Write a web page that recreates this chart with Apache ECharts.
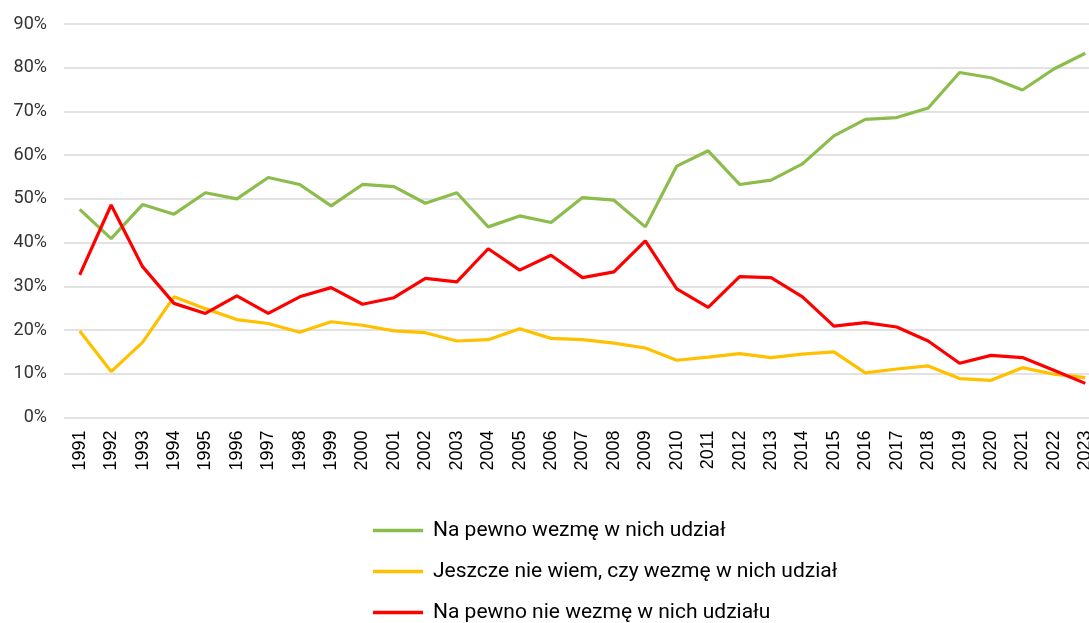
<!DOCTYPE html>
<html>
<head>
<meta charset="utf-8">
<script src="https://cdn.jsdelivr.net/npm/echarts@6/dist/echarts.min.js"></script>
<style>
  html, body { margin: 0; padding: 0; background: #fff; }
  #chart { width: 1089px; height: 623px; }
</style>
</head>
<body>
<div id="chart"></div>
<script>
// lata badania
var years = ['1991','1992','1993','1994','1995','1996','1997','1998','1999','2000','2001',
  '2002','2003','2004','2005','2006','2007','2008','2009','2010','2011','2012','2013',
  '2014','2015','2016','2017','2018','2019','2020','2021','2022','2023'];

var seriesNames = ['Na pewno wezmę w nich udział',
  'Jeszcze nie wiem, czy wezmę w nich udział',
  'Na pewno nie wezmę w nich udziału'];

var naPewno = [47.6, 40.9, 48.7, 46.5, 51.4, 50.0, 54.9, 53.3, 48.4, 53.3, 52.8,
  49.0, 51.4, 43.6, 46.1, 44.6, 50.3, 49.7, 43.6, 57.5, 61.0, 53.3, 54.3,
  58.0, 64.4, 68.2, 68.6, 70.8, 78.9, 77.7, 74.9, 79.7, 83.3];

var nieWiem = [19.8, 10.5, 17.2, 27.6, 24.9, 22.4, 21.5, 19.5, 21.9, 21.1, 19.8,
  19.4, 17.5, 17.8, 20.3, 18.1, 17.8, 17.0, 15.9, 13.1, 13.8, 14.6, 13.7,
  14.5, 15.0, 10.2, 11.1, 11.8, 8.9, 8.5, 11.4, 9.9, 9.1];

var naPewnoNie = [32.6, 48.6, 34.5, 26.1, 23.8, 27.8, 23.8, 27.6, 29.7, 25.9, 27.4,
  31.8, 31.0, 38.6, 33.7, 37.1, 32.0, 33.3, 40.4, 29.4, 25.2, 32.2, 32.0,
  27.6, 20.9, 21.7, 20.7, 17.5, 12.4, 14.2, 13.7, 10.8, 7.8];

var yTicks = ['0%','10%','20%','30%','40%','50%','60%','70%','80%','90%'];

var colors = ['#8cbc4b', '#ffc000', '#ff0000'];

var myChart = echarts.init(document.getElementById('chart'));

function lineSeries(name, data, color) {
  return {
    name: name,
    type: 'line',
    data: data,
    symbol: 'none',
    lineStyle: { color: color, width: 3.2 },
    itemStyle: { color: color },
    animation: false
  };
}

myChart.setOption({
  animation: false,
  grid: { left: 64, right: -12, top: 24, bottom: 205.5, outerBoundsMode: 'none' },
  xAxis: {
    type: 'category',
    data: years,
    boundaryGap: true,
    axisLine: { show: false },
    axisTick: { show: false },
    axisLabel: {
      rotate: 90,
      margin: 13,
      fontFamily: 'Liberation Sans',
      fontSize: 18,
      color: '#000'
    }
  },
  yAxis: {
    type: 'value',
    min: 0,
    max: 90,
    interval: 10,
    axisLine: { show: false },
    axisTick: { show: false },
    splitLine: { lineStyle: { color: '#d9d9d9', width: 1.5 } },
    axisLabel: {
      margin: 17,
      fontFamily: 'Roboto',
      fontSize: 18,
      color: '#333',
      formatter: function (v) { return yTicks[Math.round(v / 10)]; }
    }
  },
  legend: {
    orient: 'vertical',
    left: 373,
    top: 520,
    height: 200,
    padding: 0,
    icon: 'rect',
    itemWidth: 50,
    itemHeight: 3.5,
    itemGap: 20,
    textStyle: { fontFamily: 'Roboto', fontSize: 21, lineHeight: 21, color: '#000', padding: [0, 0, 0, 5] },
    data: seriesNames
  },
  series: [
    lineSeries(seriesNames[0], naPewno, colors[0]),
    lineSeries(seriesNames[1], nieWiem, colors[1]),
    lineSeries(seriesNames[2], naPewnoNie, colors[2])
  ]
});
</script>
</body>
</html>
